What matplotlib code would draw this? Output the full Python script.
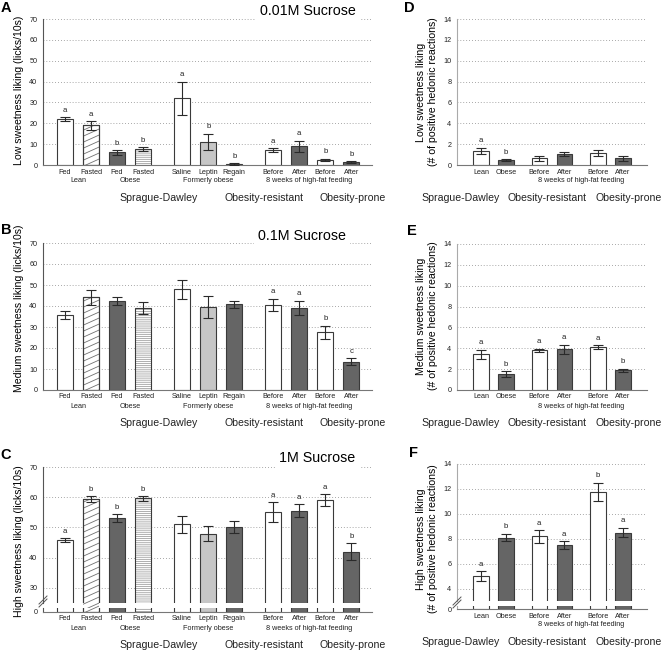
import matplotlib
matplotlib.use('Agg')
import numpy as np
import matplotlib.pyplot as plt
from matplotlib.lines import Line2D

plt.rcParams['font.family'] = ['Liberation Sans', 'DejaVu Sans']
plt.rcParams['hatch.linewidth'] = 0.6

# ---- left column: licks / 10 s ----
left_labels = ['Fed', 'Fasted', 'Fed', 'Fasted', 'Saline', 'Leptin', 'Regain',
               'Before', 'After', 'Before', 'After']
left_groups = ['Lean', 'Obese', 'Formerly obese', '8 weeks of high-fat feeding']
strains = ['Sprague-Dawley', 'Obesity-resistant', 'Obesity-prone']

low_licks = [22, 19, 6, 7.5, 32, 11, 0.5, 7, 9, 2.4, 1.3]
low_licks_err = [1, 2, 1, 1, 8, 4, 0.3, 1, 2.7, 0.5, 0.4]
low_licks_sig = ['a', 'a', 'b', 'b', 'a', 'b', 'b', 'a', 'a', 'b', 'b']

mid_licks = [35.6, 44.1, 42.4, 39.2, 47.9, 39.7, 40.8, 40.5, 39, 27.5, 13.5]
mid_licks_err = [1.9, 3.5, 1.7, 2.8, 4.4, 5.2, 1.7, 3, 3.5, 3, 1.7]
mid_licks_sig = ['', '', '', '', '', '', '', 'a', 'a', 'b', 'c']

high_licks = [45.8, 59.4, 53, 59.6, 51, 47.9, 50.1, 55, 55.5, 59.1, 42]
high_licks_err = [0.7, 0.9, 1.3, 0.8, 2.7, 2.5, 2.1, 3.3, 2.2, 1.9, 2.7]
high_licks_sig = ['a', 'b', 'b', 'b', '', '', '', 'a', 'a', 'a', 'b']

# ---- right column: # of positive hedonic reactions ----
right_labels = ['Lean', 'Obese', 'Before', 'After', 'Before', 'After']
right_groups = ['8 weeks of high-fat feeding']

low_hedonic = [1.34, 0.48, 0.64, 1.02, 1.12, 0.64]
low_hedonic_err = [0.3, 0.05, 0.25, 0.2, 0.28, 0.25]
low_hedonic_sig = ['a', 'b', '', '', '', '']

mid_hedonic = [3.42, 1.53, 3.8, 3.9, 4.12, 1.89]
mid_hedonic_err = [0.42, 0.26, 0.15, 0.43, 0.17, 0.16]
mid_hedonic_sig = ['a', 'b', 'a', 'a', 'a', 'b']

high_hedonic = [4.97, 8.09, 8.19, 7.47, 11.77, 8.5]
high_hedonic_err = [0.4, 0.3, 0.5, 0.32, 0.74, 0.4]
high_hedonic_sig = ['a', 'b', 'a', 'a', 'b', 'a']

# layout
W, H = 666, 650
LEFT_POS = [0, 1, 2, 3, 4.5, 5.5, 6.5, 8, 9, 10, 11]
RIGHT_POS = [0, 1, 2.33, 3.33, 4.67, 5.67]
LEFT_KIND = ['white', 'diag', 'dark', 'hline', 'white', 'light', 'dark',
             'white', 'dark', 'white', 'dark']
RIGHT_KIND = ['white', 'dark', 'white', 'dark', 'white', 'dark']
STYLES = {
    'white': ('white', None, None),
    'dark': ('#656565', None, None),
    'light': ('#c6c6c6', None, None),
    'diag': ('white', None, None),
    'hline': ('white', '--------', '#a2a2a2'),
}
EDGE = '#3a3a3a'

fig = plt.figure(figsize=(W / 100, H / 100), dpi=100)


def px_axes(x0, y0, x1, y1):
    return fig.add_axes([x0 / W, 1 - y1 / H, (x1 - x0) / W, (y1 - y0) / H])


def style_axes(ax, xlim, ylim, yticks, spine_col, grid=True):
    ax.set_xlim(xlim)
    ax.set_ylim(ylim)
    ax.set_yticks(yticks)
    ax.set_xticks([])
    for s in ['top', 'right']:
        ax.spines[s].set_visible(False)
    ax.spines['left'].set_color(spine_col)
    ax.spines['bottom'].set_color('#777777')
    ax.spines['left'].set_linewidth(0.8)
    ax.spines['bottom'].set_linewidth(0.8)
    ax.tick_params(axis='y', length=0, pad=4, labelsize=5.2, labelcolor='#222222')
    if grid:
        ax.yaxis.grid(True, linestyle=(0, (1, 2.5)), color='#8a8a8a', linewidth=0.6)
    ax.set_axisbelow(True)


def shallow_hatch(ax, patch, x, width):
    # sparse, shallow diagonal lines like the "Fasted" lean bars
    x0, y0 = ax.transData.transform((0, 0))
    x1, y1 = ax.transData.transform((1, 1))
    upx = 1.0 / (y1 - y0)              # data units per pixel (y)
    w_px = width * (x1 - x0)
    rise = 0.45 * w_px * upx
    step = 6.0 * upx
    lo, hi = ax.get_ylim()
    for y in np.arange(lo - rise, hi, step):
        ln, = ax.plot([x - width / 2, x + width / 2], [y, y + rise],
                      color='#707070', linewidth=0.6, zorder=2.1)
        ln.set_clip_path(patch)


def draw_bars(ax, pos, vals, kinds, width):
    for x, v, k in zip(pos, vals, kinds):
        fc, hatch, hc = STYLES[k]
        if hatch:
            ax.bar(x, v, width, color=fc, edgecolor=hc, hatch=hatch, linewidth=0, zorder=2)
            ax.bar(x, v, width, color='none', edgecolor=EDGE, linewidth=0.8, zorder=2.2)
        else:
            b = ax.bar(x, v, width, color=fc, edgecolor=EDGE, linewidth=0.8, zorder=2)
            if k == 'diag':
                shallow_hatch(ax, b[0], x, width)
                ax.bar(x, v, width, color='none', edgecolor=EDGE, linewidth=0.8, zorder=2.2)


def draw_err(ax, pos, vals, errs, sig):
    ax.errorbar(pos, vals, yerr=errs, fmt='none', ecolor='#2a2a2a', elinewidth=0.8,
                capsize=3.5, capthick=0.8, zorder=3)
    for x, v, e, s in zip(pos, vals, errs, sig):
        if s:
            ax.annotate(s, (x, v + e), xytext=(0, 7), textcoords='offset pixels',
                        ha='center', va='center', fontsize=5.6, color='#222222')


def below(ax, x, text, dy, size):
    ax.annotate(text, (x, 0), xycoords=('data', 'axes fraction'), xytext=(0, -dy),
                textcoords='offset pixels', ha='center', va='center', fontsize=size,
                color='#222222', annotation_clip=False)


def x_labels(ax, pos, labels, group_x, groups, strain_x):
    for x, t in zip(pos, labels):
        below(ax, x, t, 7, 5.2)
    for x, t in zip(group_x, groups):
        below(ax, x, t, 16, 5.2)
    for x, t in zip(strain_x, strains):
        below(ax, x, t, 33, 7.6)


def ylabel(text, x, y):
    fig.text(x / W, 1 - y / H, text, rotation=90, ha='center', va='center',
             fontsize=7.6, linespacing=1.25, multialignment='center')


def break_mark(x, y):
    for dy in (0, 3):
        fig.add_artist(Line2D([(x - 4) / W, (x + 4) / W],
                              [1 - (y + 4 + dy) / H, 1 - (y - 4 + dy) / H],
                              color='#555555', linewidth=0.7))


LXLIM = (-0.85, 11.8)
RXLIM = (-0.96, 6.64)
LGROUP_X = [0.5, 2.5, 5.5, 9.4]
LSTRAIN_X = [3.58, 7.65, 11.04]
RGROUP_X = [4.0]
RSTRAIN_X = [-0.8, 2.64, 5.92]
LW_BAR = 0.62
RW_BAR = 0.62

# ---------- A ----------
ax = px_axes(43, 19, 372, 165)
style_axes(ax, LXLIM, (0, 70), range(0, 71, 10), '#555555')
draw_bars(ax, LEFT_POS, low_licks, LEFT_KIND, LW_BAR)
draw_err(ax, LEFT_POS, low_licks, low_licks_err, low_licks_sig)
x_labels(ax, LEFT_POS, left_labels, LGROUP_X, left_groups, LSTRAIN_X)
ax.text(9.35, 1.055, '0.01M Sucrose', transform=ax.get_xaxis_transform(), ha='center',
        va='center', fontsize=10.3, bbox=dict(facecolor='white', edgecolor='none', pad=3))
ylabel('Low sweetness liking (licks/10s)', 19, 90)

# ---------- B ----------
ax = px_axes(43, 243, 372, 390)
style_axes(ax, LXLIM, (0, 70), range(0, 71, 10), '#555555')
draw_bars(ax, LEFT_POS, mid_licks, LEFT_KIND, LW_BAR)
draw_err(ax, LEFT_POS, mid_licks, mid_licks_err, mid_licks_sig)
x_labels(ax, LEFT_POS, left_labels, LGROUP_X, left_groups, LSTRAIN_X)
ax.text(9.1, 1.048, '0.1M Sucrose', transform=ax.get_xaxis_transform(), ha='center',
        va='center', fontsize=10.3, bbox=dict(facecolor='white', edgecolor='none', pad=3))
ylabel('Medium sweetness liking (licks/10s)', 19, 308)

# ---------- C (broken axis) ----------
ax = px_axes(43, 467, 372, 603)
style_axes(ax, LXLIM, (25, 70), range(30, 71, 10), '#555555')
ax.spines['bottom'].set_visible(False)
draw_bars(ax, LEFT_POS, high_licks, LEFT_KIND, LW_BAR)
draw_err(ax, LEFT_POS, high_licks, high_licks_err, high_licks_sig)
ax.text(9.7, 1.066, '1M Sucrose', transform=ax.get_xaxis_transform(), ha='center',
        va='center', fontsize=10.3, bbox=dict(facecolor='white', edgecolor='none', pad=3))
axl = px_axes(43, 608, 372, 612)
style_axes(axl, LXLIM, (0, 1), [0], '#555555', grid=False)
draw_bars(axl, LEFT_POS, high_licks, LEFT_KIND, LW_BAR)
x_labels(axl, LEFT_POS, left_labels, LGROUP_X, left_groups, LSTRAIN_X)
break_mark(43, 600)
ylabel('High sweetness liking (licks/10s)', 19, 541)

# ---------- D ----------
ax = px_axes(457, 19, 647, 165)
style_axes(ax, RXLIM, (0, 14), range(0, 15, 2), '#aaaaaa')
draw_bars(ax, RIGHT_POS, low_hedonic, RIGHT_KIND, RW_BAR)
draw_err(ax, RIGHT_POS, low_hedonic, low_hedonic_err, low_hedonic_sig)
x_labels(ax, RIGHT_POS, right_labels, RGROUP_X, right_groups, RSTRAIN_X)
ylabel('Low sweetness liking\n(# of positive hedonic reactions)', 427, 92)

# ---------- E ----------
ax = px_axes(457, 244, 647, 390)
style_axes(ax, RXLIM, (0, 14), range(0, 15, 2), '#aaaaaa')
draw_bars(ax, RIGHT_POS, mid_hedonic, RIGHT_KIND, RW_BAR)
draw_err(ax, RIGHT_POS, mid_hedonic, mid_hedonic_err, mid_hedonic_sig)
x_labels(ax, RIGHT_POS, right_labels, RGROUP_X, right_groups, RSTRAIN_X)
ylabel('Medium sweetness liking\n(# of positive hedonic reactions)', 427, 316)

# ---------- F (broken axis) ----------
ax = px_axes(457, 464, 647, 601)
style_axes(ax, RXLIM, (3, 14), range(4, 15, 2), '#aaaaaa')
ax.spines['bottom'].set_visible(False)
draw_bars(ax, RIGHT_POS, high_hedonic, RIGHT_KIND, RW_BAR)
draw_err(ax, RIGHT_POS, high_hedonic, high_hedonic_err, high_hedonic_sig)
axl = px_axes(457, 606, 647, 609)
style_axes(axl, RXLIM, (0, 1), [0], '#aaaaaa', grid=False)
draw_bars(axl, RIGHT_POS, high_hedonic, RIGHT_KIND, RW_BAR)
x_labels(axl, RIGHT_POS, right_labels, RGROUP_X, right_groups, RSTRAIN_X)
break_mark(457, 601)
ylabel('High sweetness liking\n(# of positive hedonic reactions)', 427, 539)

# panel letters
for letter, x, y in [('A', 6, 8), ('B', 6, 230), ('C', 6, 455),
                     ('D', 409, 8), ('E', 412, 231), ('F', 413, 453)]:
    fig.text(x / W, 1 - y / H, letter, fontsize=10.5, fontweight='bold',
             ha='center', va='center')

fig.savefig('out.png', dpi=100)
